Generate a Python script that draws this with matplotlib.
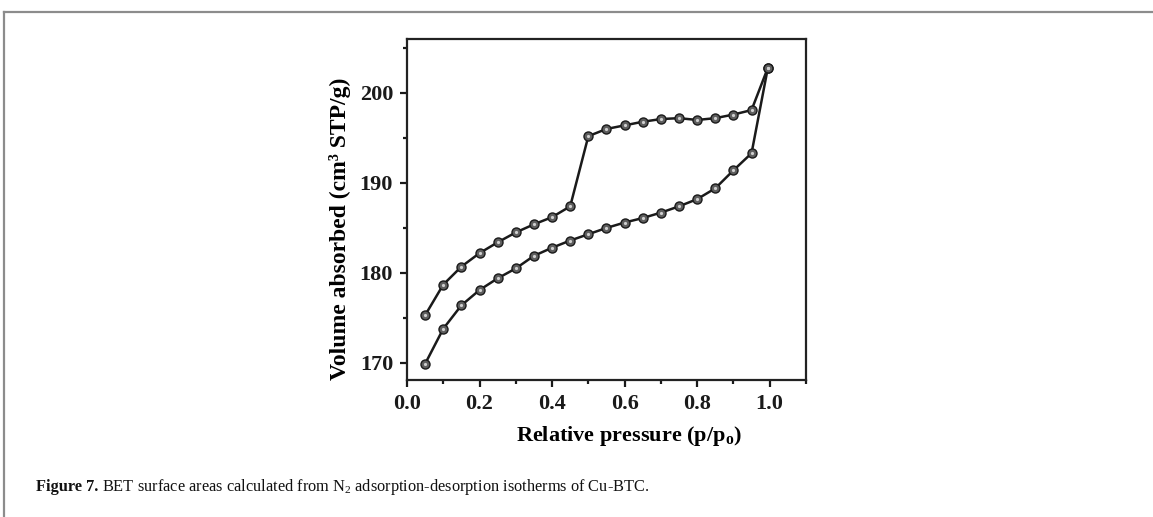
import matplotlib
matplotlib.use("Agg")
import matplotlib.pyplot as plt
from matplotlib.lines import Line2D
from matplotlib.ticker import MultipleLocator

plt.rcParams['font.family'] = ['Liberation Serif', 'DejaVu Serif']
plt.rcParams['mathtext.fontset'] = 'custom'
plt.rcParams['mathtext.rm'] = 'Liberation Serif'
plt.rcParams['mathtext.bf'] = 'Liberation Serif:bold'

# data
p_ads = [0.05, 0.10, 0.15, 0.20, 0.25, 0.30, 0.35, 0.40, 0.45, 0.50,
         0.55, 0.60, 0.65, 0.70, 0.75, 0.80, 0.85, 0.90, 0.95, 0.995]
v_ads = [169.9, 173.8, 176.4, 178.1, 179.4, 180.5, 181.9, 182.8, 183.6, 184.3,
         185.0, 185.6, 186.1, 186.7, 187.4, 188.2, 189.4, 191.4, 193.3, 202.8]

p_des = [0.995, 0.95, 0.90, 0.85, 0.80, 0.75, 0.70, 0.65, 0.60, 0.55,
         0.50, 0.45, 0.40, 0.35, 0.30, 0.25, 0.20, 0.15, 0.10, 0.05]
v_des = [202.8, 198.1, 197.6, 197.2, 197.0, 197.2, 197.1, 196.8, 196.4, 196.0,
         195.2, 187.4, 186.2, 185.4, 184.5, 183.4, 182.2, 180.7, 178.7, 175.3]

fig = plt.figure(figsize=(11.53, 5.17), dpi=100)
ax = fig.add_axes([0.353, 0.265, 0.346, 0.6596])

for xs, ys in [(p_ads, v_ads), (p_des, v_des)]:
    ax.plot(xs, ys, color='#1a1a1a', lw=1.8, marker='o', ms=6.5,
            mfc='#5e5e5e', mec='#1a1a1a', mew=1.0, zorder=3)
    ax.plot(xs, ys, ls='none', marker='o', ms=2.3, mfc='#cfcfcf',
            mec='none', zorder=4)

ax.set_xlim(0, 1.1)
ax.set_ylim(168.1, 206)
ax.xaxis.set_major_locator(MultipleLocator(0.2))
ax.xaxis.set_minor_locator(MultipleLocator(0.1))
ax.yaxis.set_major_locator(MultipleLocator(10))
ax.yaxis.set_minor_locator(MultipleLocator(5))
ax.xaxis.set_major_formatter(plt.FuncFormatter(lambda v, p: f'{v:.1f}'))

ax.tick_params(which='both', direction='out', width=1.6, colors='#1a1a1a',
               top=False, right=False)
ax.tick_params(which='major', length=5, labelsize=16, pad=5)
ax.tick_params(which='minor', length=3)
for lab in ax.get_xticklabels() + ax.get_yticklabels():
    lab.set_fontweight('bold')
for s in ax.spines.values():
    s.set_linewidth(1.6)
    s.set_color('#222222')

ax.set_ylabel('Volume absorbed (cm³ STP/g)', fontsize=17, fontweight='bold')
ax.yaxis.set_label_coords(-0.14, 0.443)
ax.set_xlabel(r'Relative pressure ($\mathbf{p/p_o}$)', fontsize=16,
              fontweight='bold')
ax.xaxis.set_label_coords(0.556, -0.13)

# page frame
fig.add_artist(Line2D([0.0035, 1.0], [1 - 12 / 517, 1 - 12 / 517],
                      color='#8c8c8c', lw=1.6, transform=fig.transFigure))
fig.add_artist(Line2D([0.0035, 0.0035], [0.0, 1 - 12 / 517],
                      color='#8c8c8c', lw=1.6, transform=fig.transFigure))

# caption: bold lead-in, then regular text on the same baseline
cap_y = 1 - 491 / 517
t1 = fig.text(36 / 1153, cap_y, 'Figure 7.', fontsize=11.8,
              fontweight='bold', color='#111111', va='baseline')
fig.canvas.draw()
x1 = fig.transFigure.inverted().transform(
    (t1.get_window_extent().x1 + 4, 0))[0]
fig.text(x1, cap_y, r'BET surface areas calculated from $\mathrm{N_2}$ '
         'adsorption-desorption isotherms of Cu-BTC.',
         fontsize=11.8, color='#111111', va='baseline')

fig.savefig('out.png', dpi=100)
